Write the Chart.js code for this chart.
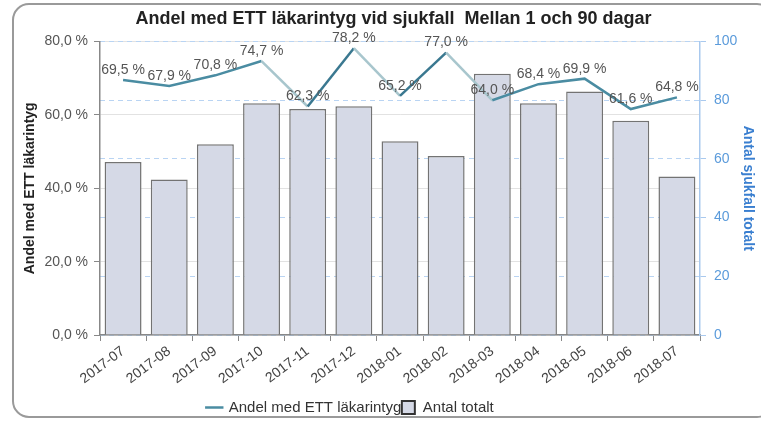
<!DOCTYPE html>
<html>
<head>
<meta charset="utf-8">
<script src="https://cdn.jsdelivr.net/npm/chart.js@4"></script>
<style>
  html, body { margin: 0; padding: 0; background: #fff; }
  #wrap { width: 761px; height: 422px; position: relative; }
</style>
</head>
<body>
<div id="wrap"><canvas id="c" width="761" height="422"></canvas></div>
<script>
const categories = ['2017-07','2017-08','2017-09','2017-10','2017-11','2017-12','2018-01','2018-02','2018-03','2018-04','2018-05','2018-06','2018-07'];
const shareEtt = [69.5, 67.9, 70.8, 74.7, 62.3, 78.2, 65.2, 77.0, 64.0, 68.4, 69.9, 61.6, 64.8];
const totalCases = [59, 53, 65, 79, 77, 78, 66, 61, 89, 79, 83, 73, 54];
const leftTicks = [0, 20, 40, 60, 80];
const rightTicks = [0, 20, 40, 60, 80, 100];

const FONT = "'Liberation Sans', Arial, sans-serif";
const fmtPct = v => v.toFixed(1).replace('.', ',') + ' %';

const framePlugin = {
  id: 'frame',
  afterLayout(chart) {
    if (chart.titleBlock) { chart.titleBlock.left += 13; chart.titleBlock.right += 13; }
    if (chart.legend) {
      chart.legend.left -= 30; chart.legend.right -= 30;
      chart.legend.top += 3; chart.legend.bottom += 3;
    }
  },
  beforeDraw(chart) {
    const ctx = chart.ctx;
    ctx.save();
    ctx.fillStyle = '#fff';
    ctx.fillRect(0, 0, chart.width, chart.height);
    ctx.strokeStyle = '#9a9a9a';
    ctx.lineWidth = 2;
    ctx.beginPath();
    ctx.roundRect(13, 4, 760, 413, 16);
    ctx.stroke();
    ctx.restore();
  }
};

const labelPlugin = {
  id: 'pointLabels',
  afterDatasetsDraw(chart) {
    const meta = chart.getDatasetMeta(0);
    const ctx = chart.ctx;
    ctx.save();
    ctx.font = '14px ' + FONT;
    ctx.fillStyle = '#555';
    ctx.textAlign = 'center';
    ctx.textBaseline = 'middle';
    meta.data.forEach((pt, i) => {
      ctx.fillText(fmtPct(shareEtt[i]), pt.x, pt.y - 10);
    });
    ctx.restore();
  }
};

new Chart(document.getElementById('c'), {
  data: {
    labels: categories,
    datasets: [
      {
        type: 'line',
        label: 'Andel med ETT läkarintyg',
        data: shareEtt,
        yAxisID: 'y',
        borderColor: '#4a8ca2',
        backgroundColor: '#4a8ca2',
        borderWidth: 2.5,
        pointRadius: 0,
        tension: 0,
        order: 0,
        segment: {
          borderColor: c => (c.p0.parsed.y - c.p1.parsed.y > 10 ? '#a8c6cd' : (c.p1.parsed.y - c.p0.parsed.y > 10 ? '#3a7890' : '#4a8ca2'))
        }
      },
      {
        type: 'bar',
        label: 'Antal totalt',
        data: totalCases,
        yAxisID: 'y1',
        backgroundColor: '#d5d9e6',
        borderColor: '#737373',
        borderWidth: 1.5,
        barPercentage: 1,
        categoryPercentage: 0.8,
        order: 1
      }
    ]
  },
  options: {
    responsive: false,
    animation: false,
    layout: { padding: { left: 0, right: 0, top: 0, bottom: 0 } },
    plugins: {
      title: {
        display: true,
        text: 'Andel med ETT läkarintyg vid sjukfall  Mellan 1 och 90 dagar',
        font: { family: FONT, size: 18, weight: 'bold' },
        color: '#222',
        padding: { top: 8, bottom: 12 }
      },
      legend: {
        position: 'bottom',
        labels: {
          font: { family: FONT, size: 15 },
          color: '#333',
          usePointStyle: true,
          boxWidth: 14,
          boxHeight: 13,
          padding: 0,
          generateLabels(chart) {
            return chart.data.datasets.map((ds, i) => ({
              text: ds.label,
              datasetIndex: i,
              fillStyle: ds.type === 'line' ? '#4a8ca2' : '#d5d9e6',
              strokeStyle: ds.type === 'line' ? '#4a8ca2' : '#333',
              lineWidth: ds.type === 'line' ? 2.5 : 2,
              pointStyle: ds.type === 'line' ? 'line' : 'rect',
              fontColor: '#333',
              hidden: false
            }));
          }
        }
      },
      tooltip: { enabled: false }
    },
    scales: {
      x: {
        offset: true,
        ticks: {
          font: { family: FONT, size: 14 },
          color: '#444',
          minRotation: 37,
          maxRotation: 37,
          padding: 2
        },
        grid: { display: true, drawOnChartArea: false, tickLength: 6, tickColor: '#888' },
        border: { color: '#888', width: 1.5 },
        afterFit(s) { s.height = 62; }
      },
      y: {
        position: 'left',
        min: 0,
        max: 80,
        afterBuildTicks(s) { s.ticks = leftTicks.map(v => ({ value: v })); },
        ticks: {
          font: { family: FONT, size: 14 },
          color: '#555',
          callback: v => fmtPct(v),
          padding: 6
        },
        grid: { color: '#e2e2e2', tickColor: '#888', tickLength: 6, lineWidth: 1 },
        border: { color: '#888', width: 1.5 },
        title: {
          display: true,
          text: 'Andel med ETT läkarintyg',
          font: { family: FONT, size: 14, weight: 'bold' },
          color: '#222',
          padding: { top: 22, bottom: 0 }
        },
        afterFit(s) { s.width = 100; }
      },
      y1: {
        position: 'right',
        min: 0,
        max: 100,
        afterBuildTicks(s) { s.ticks = rightTicks.map(v => ({ value: v })); },
        ticks: {
          font: { family: FONT, size: 14 },
          color: '#5b9bdb',
          padding: 8
        },
        grid: { color: '#b9d4f3', tickColor: '#a9c9ee', tickLength: 6, lineWidth: 1 },
        border: { color: '#a9c9ee', width: 1.5, dash: [5, 4] },
        title: {
          display: true,
          text: 'Antal sjukfall totalt',
          font: { family: FONT, size: 14, weight: 'bold' },
          color: '#3a7fd0',
          padding: { top: 5, bottom: 0 }
        },
        afterFit(s) { s.width = 61; }
      }
    }
  },
  plugins: [framePlugin, labelPlugin]
});
</script>
</body>
</html>
